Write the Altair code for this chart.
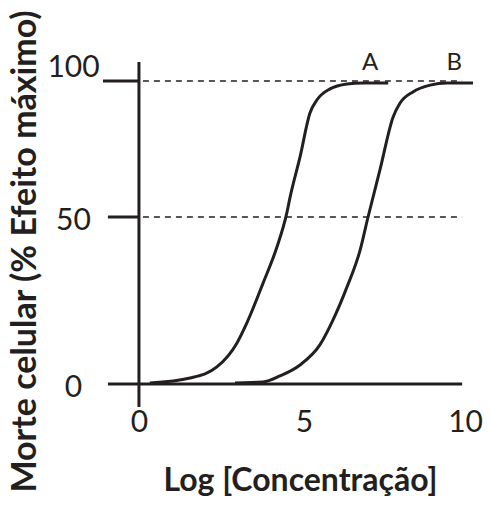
import altair as alt
import pandas as pd

# Curve A (log concentration, % max effect)
a_x = [0.33, 1.55, 2.36, 2.97, 3.27, 3.76, 4.18, 4.48, 4.58, 4.88, 5.18, 5.39, 5.79, 6.30, 6.79, 7.55]
a_y = [0.3, 1.8, 5.1, 12.3, 18.3, 30.2, 41.0, 51.5, 57.4, 72.1, 88.2, 93.0, 97.1, 98.9, 99.3, 99.3]
# Curve B
b_x = [2.91, 3.76, 4.27, 4.88, 5.48, 5.88, 6.30, 6.70, 6.94, 7.30, 7.70, 7.91, 8.30, 8.82, 9.33, 10.12]
b_y = [0.3, 0.6, 2.4, 5.7, 11.7, 19.2, 29.0, 40.1, 50.0, 67.3, 86.8, 91.9, 96.0, 98.5, 99.3, 99.3]

series_names = ["A", "B"]
label_x = [7.0, 9.55]
label_y = [104.0, 104.0]

ref_levels = [50, 100]
y_ticks = [0, 50, 100]
x_ticks = [0, 5, 10]

INK = "#231f20"
FONT = "Lato"

curves = pd.DataFrame(
    {"x": a_x + b_x, "y": a_y + b_y, "s": ["A"] * len(a_x) + ["B"] * len(b_x)}
)
labels = pd.DataFrame({"x": label_x, "y": label_y, "t": series_names})
dashed = pd.DataFrame({"y": ref_levels, "x1": [0.12, 0.12], "x2": [9.79, 9.79]})
solid_h = pd.DataFrame({"y": [0, 50, 100], "x1": [-0.94, -0.94, -1.09], "x2": [9.79, 0, 0]})
solid_v = pd.DataFrame({"x": [0], "y1": [-6.9], "y2": [107.0]})

xscale = alt.Scale(domain=[-1.18, 10.18], nice=False, zero=False)
yscale = alt.Scale(domain=[-6.9, 0, 50, 100, 115.1], range=[367, 344, 177, 41, 0],
                   nice=False, zero=False)

xaxis = alt.Axis(values=x_ticks, domain=False, ticks=False, grid=False,
                 labelFont=FONT, labelFontSize=30, labelColor=INK,
                 labelBaseline="middle", labelPadding=15,
                 labelOffset=alt.ExprRef("datum.value == 10 ? -4 : 0"),
                 title="Log [Concentração]", titleFont=FONT, titleFontSize=32,
                 titleFontWeight="bold", titleColor=INK,
                 titleX=200, titleY=83, titleAlign="center", titleBaseline="alphabetic")
yaxis = alt.Axis(values=y_ticks, domain=False, ticks=False, grid=False,
                 labelFont=FONT, labelFontSize=30, labelColor=INK,
                 labelAlign="center", labelBaseline="middle", labelPadding=27,
                 labelOffset=alt.ExprRef("datum.value == 100 ? -14 : 3"),
                 title="Morte celular (% Efeito máximo)", titleFont=FONT, titleFontSize=34,
                 titleFontWeight="bold", titleColor=INK, titleAngle=270,
                 titleX=-65, titleY=211, titleAlign="center", titleBaseline="alphabetic")

base_axes = alt.Chart(pd.DataFrame({"x": [0], "y": [0]})).mark_point(opacity=0).encode(
    x=alt.X("x:Q", scale=xscale, axis=xaxis),
    y=alt.Y("y:Q", scale=yscale, axis=yaxis),
)

dash_layer = alt.Chart(dashed).mark_rule(color=INK, strokeWidth=1.3, strokeDash=[6, 5]).encode(
    x=alt.X("x1:Q", scale=xscale), x2="x2:Q", y=alt.Y("y:Q", scale=yscale)
)
h_layer = alt.Chart(solid_h).mark_rule(color=INK, strokeWidth=3).encode(
    x=alt.X("x1:Q", scale=xscale), x2="x2:Q", y=alt.Y("y:Q", scale=yscale)
)
v_layer = alt.Chart(solid_v).mark_rule(color=INK, strokeWidth=3).encode(
    x=alt.X("x:Q", scale=xscale), y=alt.Y("y1:Q", scale=yscale), y2="y2:Q"
)
curve_layer = alt.Chart(curves).mark_line(color=INK, strokeWidth=3, interpolate="monotone").encode(
    x=alt.X("x:Q", scale=xscale), y=alt.Y("y:Q", scale=yscale), detail="s:N"
)
text_layer = alt.Chart(labels).mark_text(font=FONT, fontSize=24, color=INK,
                                         align="center", baseline="alphabetic").encode(
    x=alt.X("x:Q", scale=xscale), y=alt.Y("y:Q", scale=yscale), text="t:N"
)

chart = alt.layer(base_axes, dash_layer, h_layer, v_layer, curve_layer, text_layer).properties(
    width=375, height=367,
    padding={"left": 92, "top": 32, "right": 8, "bottom": 90},
    autosize=alt.AutoSizeParams(type="none"),
    background="white",
).configure_view(stroke=None)

chart.save("out.html", embed_options={"renderer": "svg", "actions": False})
